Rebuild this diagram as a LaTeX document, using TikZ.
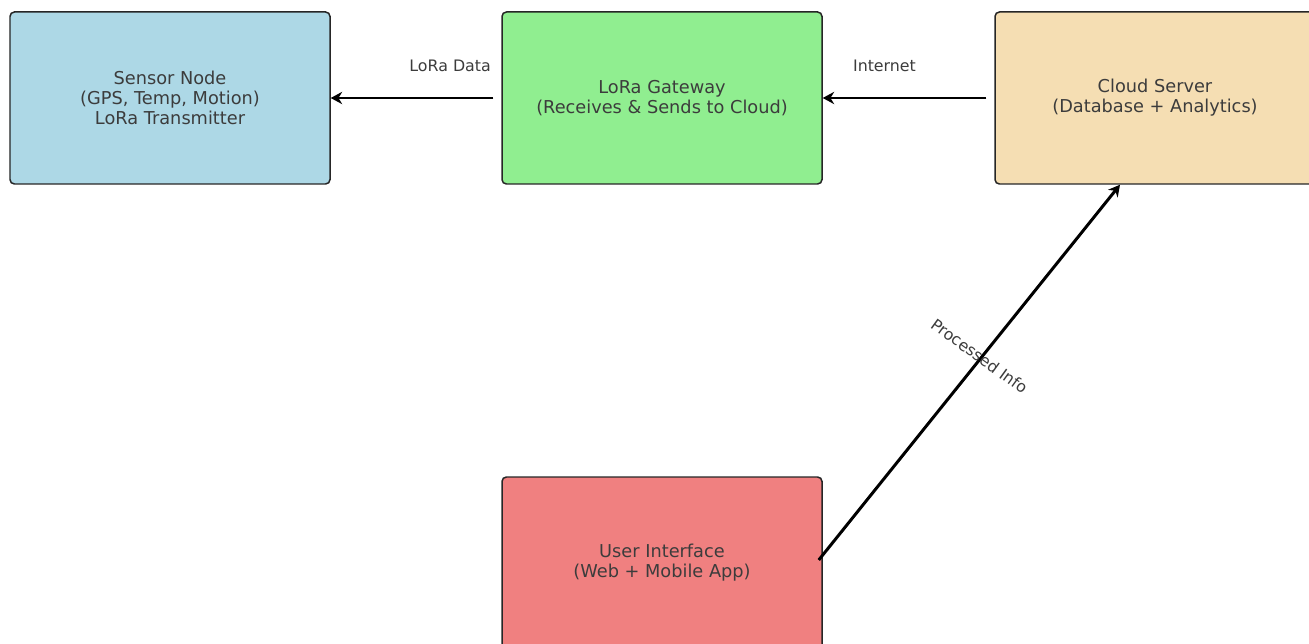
\documentclass[tikz,border=0pt]{standalone}
\usepackage{fontspec}
\setmainfont{DejaVu Sans}
\usetikzlibrary{arrows.meta, positioning}

\definecolor{sensorblue}{RGB}{173,216,230}
\definecolor{gatewaygreen}{RGB}{144,238,144}
\definecolor{cloudwheat}{RGB}{245,222,179}
\definecolor{uicoral}{RGB}{240,128,128}
\definecolor{textgray}{RGB}{60,60,60}

\begin{document}
\begin{tikzpicture}[>={Stealth[length=6.5pt,width=7pt]}, align=center,
	block/.style={draw=black!85, line width=0.85pt, rounded corners=2.5pt, minimum width=6.4cm, minimum height=3.44cm, inner sep=0pt, text=textgray, font=\fontsize{10.1}{11.3}\selectfont},
	link/.style={->, line width=1.7pt, black},
	linklabel/.style={text=textgray, font=\fontsize{9}{10}\selectfont}]
	
	\clip (0, 0) rectangle (26.18, -12.88);
	
	\node[block, fill=sensorblue]	(sensor)	at	(3.4, -1.96)	{Sensor Node \\ (GPS, Temp, Motion) \\ LoRa Transmitter};
	\node[block, fill=gatewaygreen]	(gateway)	at	(13.24, -1.96)	{LoRa Gateway \\ (Receives \& Sends to Cloud)};
	\node[block, fill=cloudwheat]	(cloud)		at	(23.1, -1.96)	{Cloud Server \\ (Database + Analytics)};
	\node[block, fill=uicoral]		(ui)		at	(13.24, -11.26)	{User Interface \\ (Web + Mobile App)};
	
	\path	(gateway.west)	edge[link, shorten <=0.16cm]	node[linklabel, pos=0.3, yshift=0.64cm]	{LoRa Data}	(sensor.east)
			(cloud.west)	edge[link, shorten <=0.16cm]	node[linklabel, pos=0.64, yshift=0.64cm]	{Internet}	(gateway.east)
			([xshift=-0.08cm, yshift=0.06cm]ui.east)	edge[link]	node[linklabel, pos=0.53, xshift=0.02cm, yshift=0.1cm, rotate=-36]	{Processed Info}	([xshift=-0.7cm]cloud.south);
			
\end{tikzpicture}
\end{document}
